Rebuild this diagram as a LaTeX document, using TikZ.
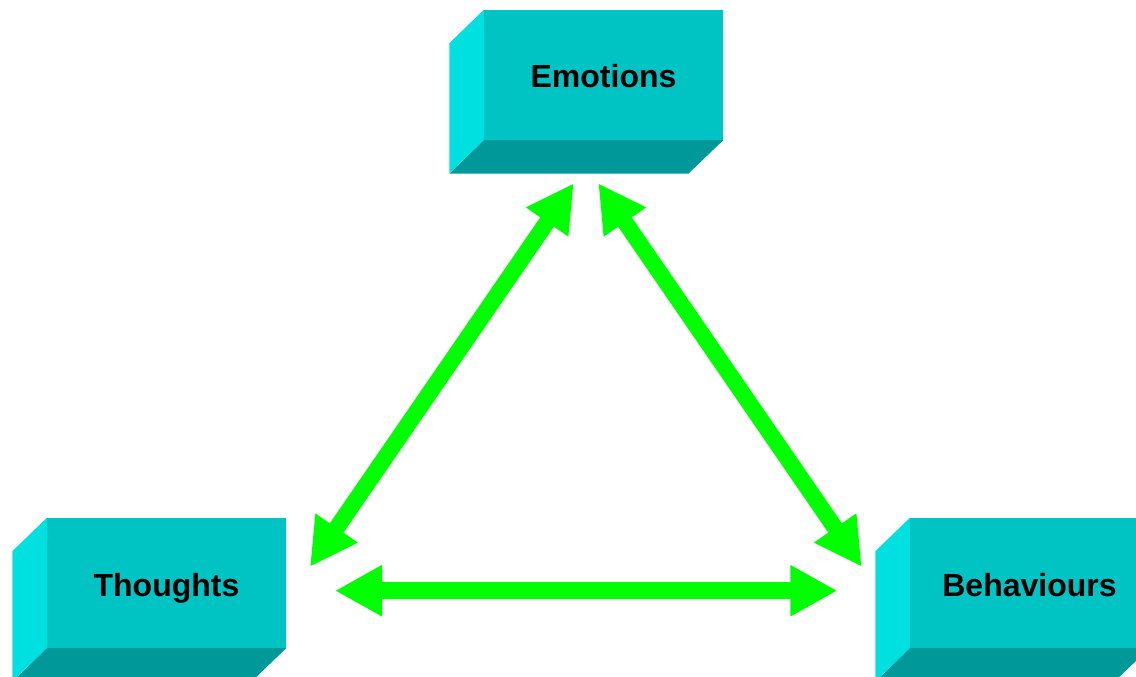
\documentclass[tikz,border=0pt]{standalone}
\usepackage{fontspec}
\setmainfont{Liberation Sans}
\usetikzlibrary{arrows.meta}
\definecolor{facec}{RGB}{0,196,196}
\definecolor{sidec}{RGB}{0,224,224}
\definecolor{botc}{RGB}{0,152,152}
\definecolor{arrowc}{RGB}{0,255,0}
\tikzset{
  face/.style={rectangle, fill=facec, draw=none, inner sep=0pt,
    minimum width=239pt, minimum height=130pt,
    text height=26pt, text depth=0pt,
    font=\fontsize{32}{38}\selectfont\bfseries},
  sideface/.style={fill=sidec, draw=none},
  botface/.style={fill=botc, draw=none},
  link/.style={draw=arrowc, line width=16.5pt,
    {Triangle[length=47pt,width=48pt]}-{Triangle[length=47pt,width=48pt]}}
}
\newcommand{\bevelbox}[1]{%
  \fill[sideface] (#1.north west) -- ++(-34.5,33.5) -- ++(0,130) -- (#1.south west) -- cycle;
  \fill[botface] (#1.south west) -- ++(-34.5,33.5) -- ++(239,0) -- (#1.south east) -- cycle;
}
\begin{document}
\begin{tikzpicture}[x=1pt,y=-1pt]
\useasboundingbox (0,0) rectangle (1136,677);
\clip (0,0) rectangle (1136,677);
\fill[white] (0,0) rectangle (1136,677);
\node[face] (emo) at (603.5,75) {Emotions};
\node[face] (tho) at (166.5,583) {Thoughts};
\node[face] (beh) at (1029.5,583) {Behaviours};
\bevelbox{emo}
\bevelbox{tho}
\bevelbox{beh}
\coordinate (emoL) at (573.7,183.3);
\coordinate (emoR) at (598.3,183.3);
\coordinate (thoT) at (310,566.7);
\coordinate (thoR) at (335,590.7);
\coordinate (behT) at (861.7,566.7);
\coordinate (behL) at (837.3,590.7);
\draw[link] (emoL) -- (thoT);
\draw[link] (emoR) -- (behT);
\draw[link] (thoR) -- (behL);
\end{tikzpicture}
\end{document}
